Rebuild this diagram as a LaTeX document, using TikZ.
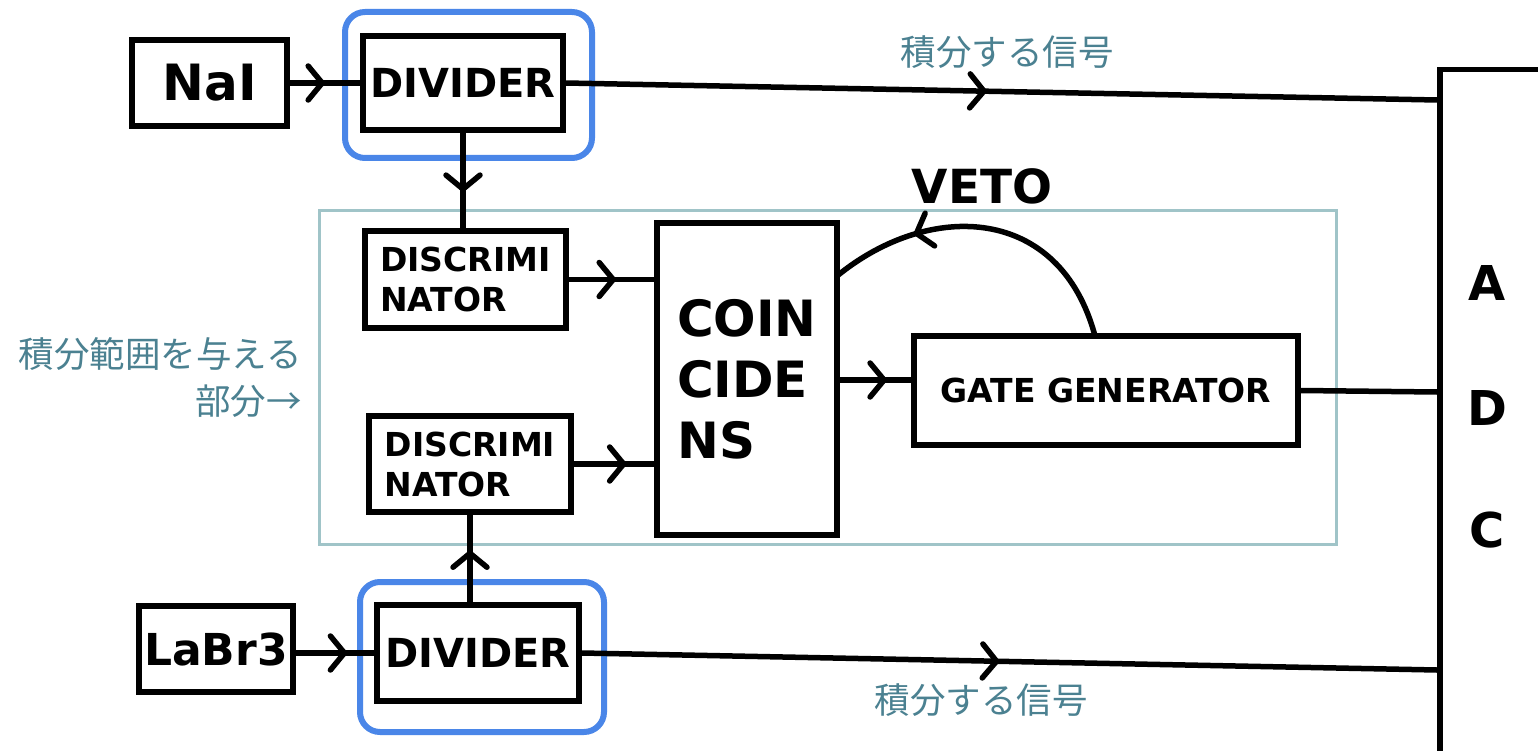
\documentclass[tikz,border=0pt]{standalone}
\usepackage{fontspec}
\setmainfont{DejaVu Sans}
\newfontfamily\jp{Noto Sans CJK JP}
\usetikzlibrary{arrows.meta,decorations.markings,calc}
\definecolor{hiblue}{RGB}{74,134,232}
\definecolor{tealline}{RGB}{160,196,200}
\definecolor{tealtext}{RGB}{75,129,145}
\begin{document}
\begin{tikzpicture}[x=1pt,y=-1pt,
  box/.style={draw, line width=5.5pt, inner sep=0pt, font=\bfseries, align=left},
  wire/.style={line width=5.5pt},
  marr/.style={postaction={decorate,decoration={markings,mark=at position #1 with {\draw[line width=5.5pt, line cap=round, line join=round] (-14pt,-17pt) -- (0pt,0pt) -- (-14pt,17pt);}}}},
  hilite/.style={draw=hiblue, line width=6pt, rounded corners=20pt, inner sep=0pt},
  jlabel/.style={text=tealtext, font=\jp\fontsize{35.5}{47}\selectfont, inner sep=0pt},
  big/.style={font=\bfseries\fontsize{48}{56}\selectfont, inner sep=0pt}
]
\clip (0,0) rectangle (1538,751);
\fill[white] (0,0) rectangle (1538,751);

% teal region
\node[draw=tealline, line width=3pt, minimum width=1017pt, minimum height=333pt, inner sep=0pt] (region) at (827.5,377.5) {};

% highlight boxes
\node[hilite, minimum width=247pt, minimum height=146pt] (hl1) at (468.5,85) {};
\node[hilite, minimum width=244pt, minimum height=150pt] (hl2) at (482,657) {};

% boxes
\node[box, minimum width=155pt, minimum height=86pt, font=\bfseries\fontsize{50}{56}\selectfont] (nai) at (209.5,83) {NaI};
\node[box, minimum width=200pt, minimum height=94pt, font=\bfseries\fontsize{40}{48}\selectfont] (div1) at (463,83) {DIVIDER};
\node[box, minimum width=201pt, minimum height=97pt, font=\bfseries\fontsize{33}{40}\selectfont] (disc1) at (465.5,279.5) {DISCRIMI\\NATOR};
\node[box, minimum width=202pt, minimum height=96pt, font=\bfseries\fontsize{33}{40}\selectfont] (disc2) at (470,464) {DISCRIMI\\NATOR};
\node[box, minimum width=180pt, minimum height=312pt, font=\bfseries\fontsize{50}{61}\selectfont] (coin) at (747,379) {COIN\\CIDE\\NS};
\node[box, minimum width=384pt, minimum height=109pt, font=\bfseries\fontsize{33}{40}\selectfont] (gate) at (1106,390.5) {GATE GENERATOR};
\node[box, minimum width=154pt, minimum height=86pt, font=\bfseries\fontsize{44}{50}\selectfont] (labr) at (216,649) {LaBr3};
\node[box, minimum width=202pt, minimum height=96pt, font=\bfseries\fontsize{40}{48}\selectfont] (div2) at (478,653) {DIVIDER};
\node[box, minimum width=260pt, minimum height=720pt, anchor=north west] (adc) at (1437,67) {};
\node[big] (la) at (1487,283) {A};
\node[big] (ld) at (1487,408) {D};
\node[big] (lc) at (1487,530) {C};

% coordinates
\coordinate (adcin1) at (1437,100);
\coordinate (adcin2) at (1437,392);
\coordinate (adcin3) at (1437,670);
\coordinate (vetoS) at (1095,336);
\coordinate (vetoE) at (837,276);

% connectors
\draw[wire, marr=0.46] (nai.east) -- (div1.west);
\draw[wire, marr=0.48] (div1.east) -- (adcin1);
\draw[wire, marr=0.59] (div1.south) -- (div1.south |- disc1.north);
\draw[wire, marr=0.52] (disc1.east) -- (disc1.east -| coin.west);
\draw[wire, marr=0.62] (disc2.east) -- (disc2.east -| coin.west);
\draw[wire, marr=0.62] (coin.east |- 0,380) -- (gate.west |- 0,380);
\draw[wire] (gate.east) -- (adcin2);
\draw[wire, marr=0.72] (vetoS) .. controls (1060,205) and (930,200) .. (vetoE);
\draw[wire, marr=0.62] (div2.west -| labr.east) -- (div2.west);
\draw[wire, marr=0.56] (disc2.south |- div2.north) -- (disc2.south);
\draw[wire, marr=0.485] (div2.east) -- (adcin3);

% labels
\node[font=\bfseries\fontsize{47}{56}\selectfont, inner sep=0pt] (veto) at (982,186) {VETO};
\node[jlabel] (sig1) at (1007,52) {積分する信号};
\node[jlabel] (sig2) at (981,700) {積分する信号};
\node[jlabel, align=right, anchor=east] (part) at (302,378) {積分範囲を与える\\部分→};
\end{tikzpicture}
\end{document}
